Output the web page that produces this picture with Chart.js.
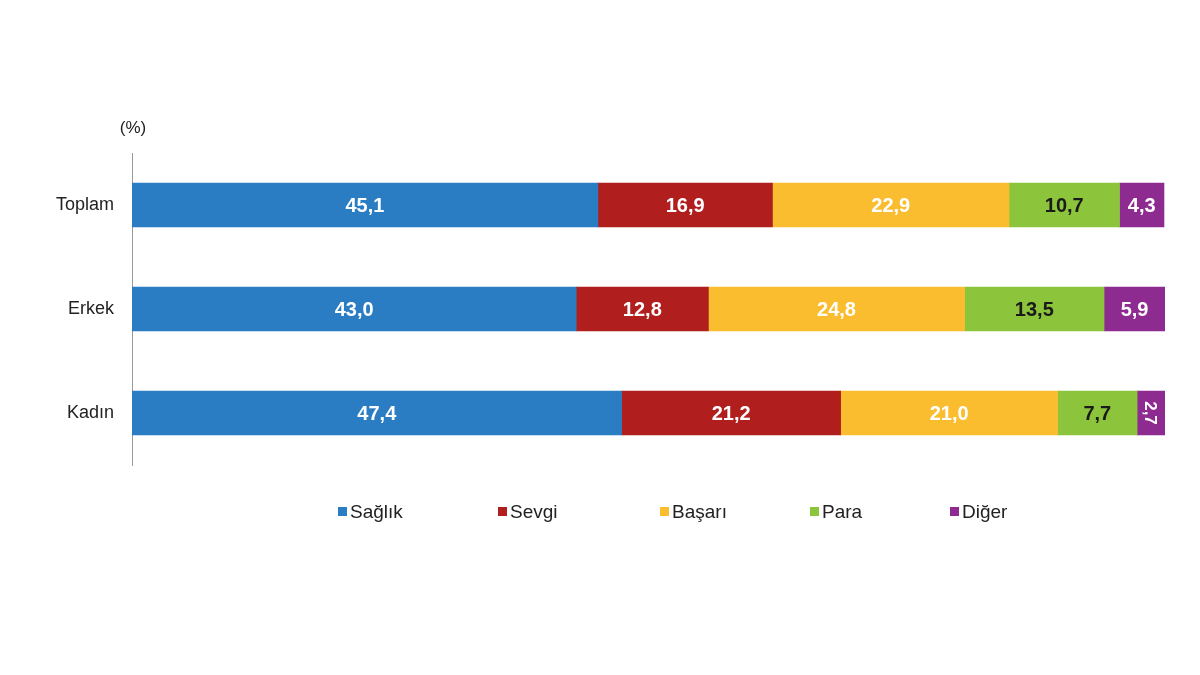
<!DOCTYPE html>
<html><head><meta charset="utf-8">
<script src="https://cdn.jsdelivr.net/npm/chart.js@4"></script>
<style>body{margin:0;background:#fff}#wrap{width:1200px;height:675px;position:relative}</style>
</head><body><div id="wrap"><canvas id="c" width="1200" height="675"></canvas></div>
<script>
const categories = ['Toplam', 'Erkek', 'Kadın'];
const seriesNames = ['Sağlık', 'Sevgi', 'Başarı', 'Para', 'Diğer'];
const saglik = [45.1, 43.0, 47.4];
const sevgi = [16.9, 12.8, 21.2];
const basari = [22.9, 24.8, 21.0];
const para = [10.7, 13.5, 7.7];
const diger = [4.3, 5.9, 2.7];
const colors = ['#2a7dc3', '#b01e1e', '#fbbd30', '#8cc43c', '#8e2b90'];
const labelColors = ['#fff', '#fff', '#fff', '#1a1a1a', '#fff'];

const values = [saglik, sevgi, basari, para, diger];

const fmt = v => v.toFixed(1).replace('.', ',');

const labelsPlugin = {
  id: 'labels',
  afterDatasetsDraw(chart) {
    const ctx = chart.ctx;
    ctx.save();
    ctx.font = 'bold 20px "Liberation Sans", Arial, sans-serif';
    ctx.textAlign = 'center';
    ctx.textBaseline = 'middle';
    chart.data.datasets.forEach((ds, i) => {
      chart.getDatasetMeta(i).data.forEach((bar, j) => {
        const w = Math.abs(bar.x - bar.base);
        const cx = (bar.x + bar.base) / 2;
        ctx.fillStyle = labelColors[i];
        const t = fmt(ds.data[j]);
        if (ctx.measureText(t).width > w - 4) {
          ctx.save();
          ctx.translate(cx, bar.y);
          ctx.rotate(Math.PI / 2);
          ctx.font = 'bold 17px "Liberation Sans", Arial, sans-serif';
          ctx.fillText(t, 0, 1);
          ctx.restore();
        } else {
          ctx.fillText(t, cx, bar.y + 1);
        }
      });
    });
    // unit label
    ctx.fillStyle = '#222';
    ctx.font = '17px "Liberation Sans", Arial, sans-serif';
    ctx.fillText('(%)', 133, 128);
    // legend
    const xs = [338, 498, 660, 810, 950];
    ctx.textAlign = 'left';
    ctx.font = '19px "Liberation Sans", Arial, sans-serif';
    seriesNames.forEach((n, i) => {
      ctx.fillStyle = colors[i];
      ctx.fillRect(xs[i], 507, 9, 9);
      ctx.fillStyle = '#222';
      ctx.fillText(n, xs[i] + 12, 513);
    });
    ctx.restore();
  }
};

new Chart(document.getElementById('c'), {
  type: 'bar',
  data: {
    labels: categories,
    datasets: seriesNames.map((n, i) => ({
      label: n, data: values[i], backgroundColor: colors[i],
      barThickness: 44, borderWidth: 0
    }))
  },
  options: {
    indexAxis: 'y',
    responsive: false,
    animation: false,
    layout: { padding: { top: 153, bottom: 210, right: 35, left: 0 } },
    plugins: { legend: { display: false }, tooltip: { enabled: false } },
    scales: {
      x: { stacked: true, min: 0, max: 100, display: false },
      y: {
        stacked: true,
        grid: { display: false },
        border: { color: '#999', width: 1 },
        ticks: { color: '#222', padding: 10, font: { size: 18, family: '"Liberation Sans", Arial, sans-serif' } },
        afterFit(s) { s.width = 132; }
      }
    }
  },
  plugins: [labelsPlugin]
});
</script></body></html>
